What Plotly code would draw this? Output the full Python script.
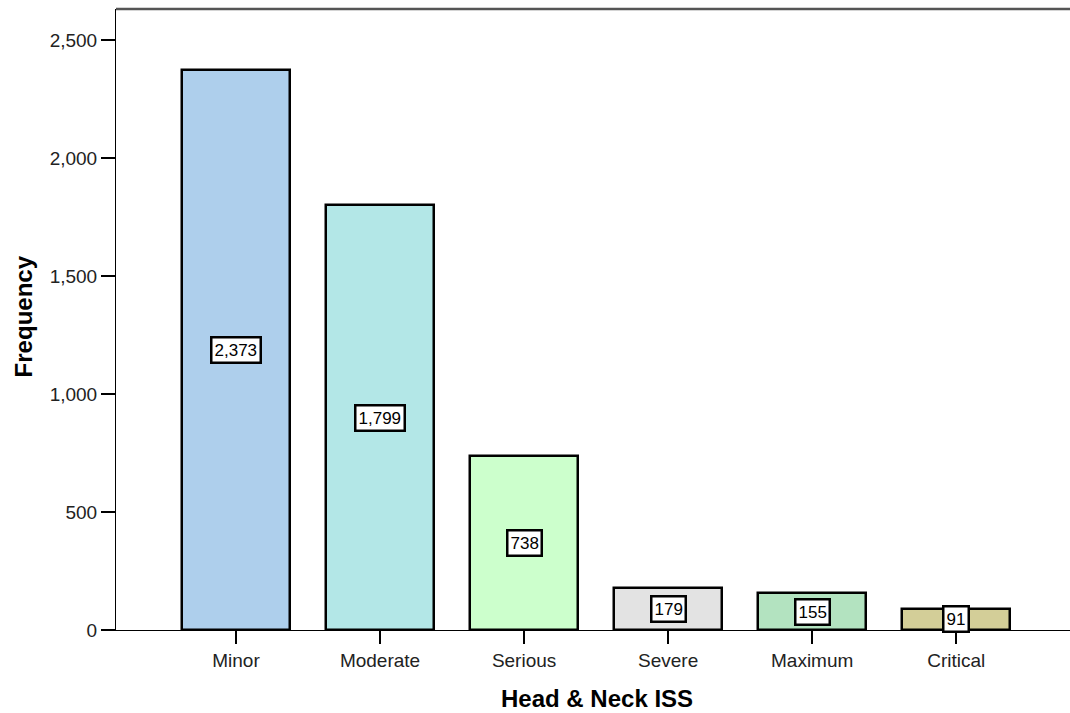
import plotly.graph_objects as go

# Data
categories = ["Minor", "Moderate", "Serious", "Severe", "Maximum", "Critical"]
frequencies = [2373, 1799, 738, 179, 155, 91]
bar_colors = ["#AECFEC", "#B3E7E7", "#CCFFCC", "#E3E3E3", "#B3E3C0", "#D3CE98"]
y_ticks = [0, 500, 1000, 1500, 2000, 2500]

fig = go.Figure()

fig.add_trace(go.Bar(
    x=list(range(len(categories))),
    y=frequencies,
    width=0.75,
    marker=dict(color=bar_colors, line=dict(color="black", width=2.5)),
    hoverinfo="y",
))

# value boxes in the middle of each bar
for i, v in enumerate(frequencies):
    fig.add_annotation(
        x=i, y=v / 2, text=f"{v:,}", showarrow=False,
        font=dict(family="Arial", size=17, color="black"),
        bgcolor="white", bordercolor="black", borderwidth=2.5, borderpad=2,
    )

# axis titles
fig.add_annotation(
    xref="paper", yref="paper", x=-0.0975, y=0.505, text="<b>Frequency</b>",
    textangle=-90, showarrow=False, xanchor="center", yanchor="middle",
    font=dict(family="Arial", size=24, color="black"),
)
fig.add_annotation(
    xref="paper", yref="paper", x=0.504, y=-0.11, text="<b>Head &amp; Neck ISS</b>",
    showarrow=False, xanchor="center", yanchor="middle",
    font=dict(family="Arial", size=24, color="black"),
)

# top frame line
fig.add_shape(type="line", xref="paper", yref="paper", x0=0, x1=1, y0=1, y1=1,
              line=dict(color="#555555", width=2.5))

fig.update_layout(
    width=1070, height=713,
    margin=dict(l=116, r=0, t=9, b=83),
    paper_bgcolor="white", plot_bgcolor="white",
    showlegend=False,
    bargap=0,
    font=dict(family="Arial", size=19, color="#222222"),
)
fig.update_xaxes(
    range=[-0.833, 5.79],
    tickmode="array", tickvals=list(range(len(categories))), ticktext=categories,
    ticks="outside", ticklen=13, tickwidth=2, tickcolor="black",
    showline=True, linecolor="black", linewidth=1,
    showgrid=False, zeroline=False,
    tickfont=dict(family="Arial", size=19, color="#222222"),
)
fig.update_yaxes(
    range=[0, 2631],
    tickmode="array", tickvals=y_ticks, tickformat=",",
    ticks="outside", ticklen=14, tickwidth=1.5, tickcolor="black",
    showline=True, linecolor="black", linewidth=1,
    showgrid=False, zeroline=False,
    tickfont=dict(family="Arial", size=19, color="#222222"),
)

fig.write_html("out.html", config={"displayModeBar": False},
               post_script="document.body.style.margin='0';")
